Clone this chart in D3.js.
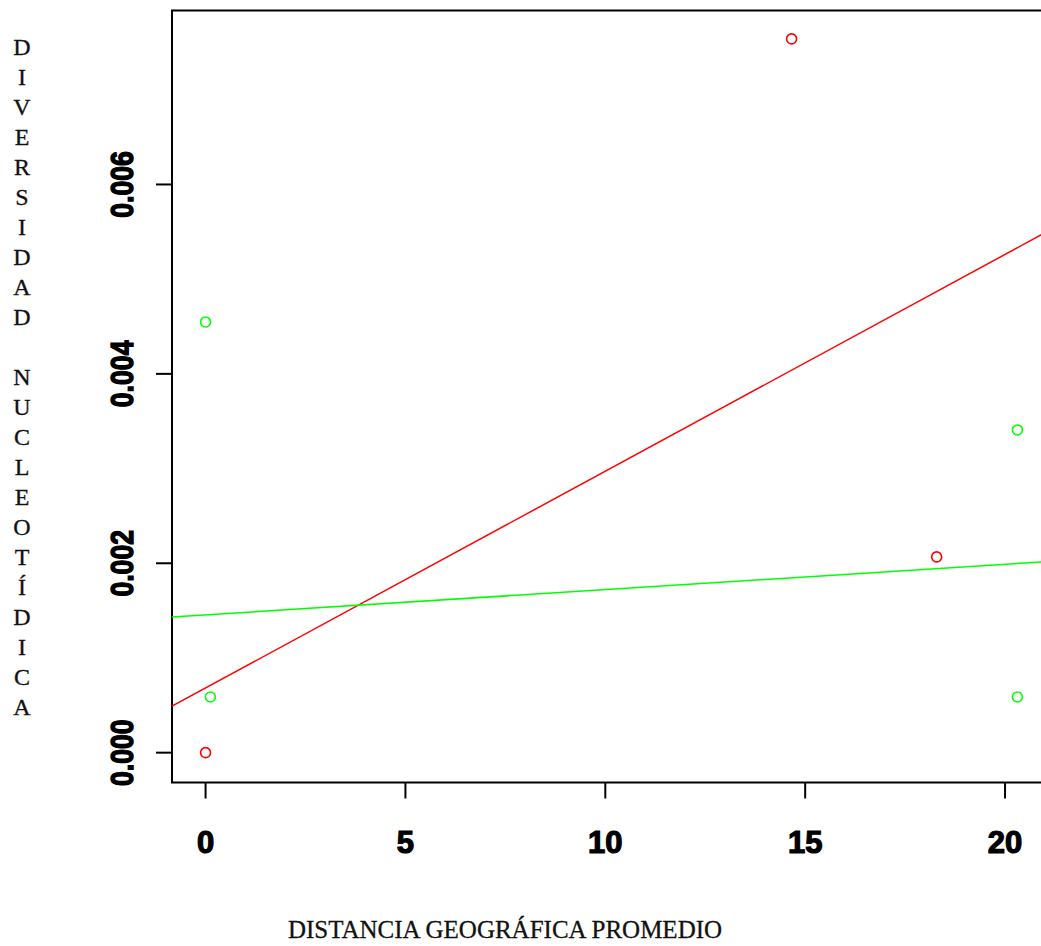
<!DOCTYPE html>
<html>
<head>
<meta charset="utf-8">
<script src="https://cdn.jsdelivr.net/npm/d3@7"></script>
<style>
  body { margin: 0; background: #fff; overflow: hidden; }
  svg { display: block; }
</style>
</head>
<body>
<script>
// data
var redX = [0, 14.66, 18.29];
var redY = [0, 0.007537, 0.002067];
var greenX = [0, 0.12, 20.31, 20.31];
var greenY = [0.004548, 0.000588, 0.003408, 0.000588];
// fitted lines: [intercept, slope]
var redFit = [0.000683, 0.0002289];
var greenFit = [0.001455, 0.0000267];

var xTicks = [0, 5, 10, 15, 20];
var yTicks = [0, 0.002, 0.004, 0.006];
var yTickLabels = ["0.000", "0.002", "0.004", "0.006"];
var xTitle = "DISTANCIA GEOGRÁFICA PROMEDIO";
var yTitle = "DIVERSIDAD NUCLEOTÍDICA";

var width = 1041, height = 946;
var plot = {left: 172, top: 10.5, right: 1063, bottom: 782.5};

var x = d3.scaleLinear().domain([-0.84, 21.45]).range([plot.left, plot.right]);
var y = d3.scaleLinear().domain([-0.000315, 0.007837]).range([plot.bottom, plot.top]);

var svg = d3.select("body").append("svg")
    .attr("width", width)
    .attr("height", height);

svg.append("defs").append("clipPath").attr("id", "clip")
  .append("rect")
    .attr("x", plot.left).attr("y", plot.top)
    .attr("width", plot.right - plot.left)
    .attr("height", plot.bottom - plot.top);

// box
svg.append("rect")
    .attr("x", plot.left).attr("y", plot.top)
    .attr("width", plot.right - plot.left)
    .attr("height", plot.bottom - plot.top)
    .style("fill", "none")
    .style("stroke", "#000")
    .style("stroke-width", 2);

// x axis ticks
svg.selectAll(".xtick")
    .data(xTicks)
  .enter().append("line")
    .attr("x1", function(d) { return x(d); })
    .attr("x2", function(d) { return x(d); })
    .attr("y1", plot.bottom)
    .attr("y2", plot.bottom + 16)
    .style("stroke", "#000")
    .style("stroke-width", 2);

svg.selectAll(".xlab")
    .data(xTicks)
  .enter().append("text")
    .attr("x", function(d) { return x(d); })
    .attr("y", 853)
    .attr("text-anchor", "middle")
    .style("font-family", "'Liberation Sans', Arial, sans-serif")
    .style("font-weight", "bold")
    .style("font-size", "31px")
    .style("stroke", "#000")
    .style("stroke-width", 1.2)
    .text(function(d) { return d; });

// y axis ticks
svg.selectAll(".ytick")
    .data(yTicks)
  .enter().append("line")
    .attr("x1", plot.left - 16)
    .attr("x2", plot.left)
    .attr("y1", function(d) { return y(d); })
    .attr("y2", function(d) { return y(d); })
    .style("stroke", "#000")
    .style("stroke-width", 2);

svg.selectAll(".ylab")
    .data(yTicks)
  .enter().append("text")
    .attr("transform", function(d) { return "translate(133," + y(d) + ") rotate(-90) scale(0.86,1)"; })
    .attr("text-anchor", "middle")
    .style("font-family", "'Liberation Sans', Arial, sans-serif")
    .style("font-weight", "bold")
    .style("font-size", "31px")
    .style("stroke", "#000")
    .style("stroke-width", 1.4)
    .text(function(d, i) { return yTickLabels[i]; });

// regression lines
var xd = x.domain();
function fitLine(fit) {
  return xd.map(function(v) { return [x(v), y(fit[0] + fit[1] * v)]; });
}
var g = svg.append("g").attr("clip-path", "url(#clip)");

g.append("path")
    .attr("d", d3.line()(fitLine(redFit)))
    .style("fill", "none")
    .style("stroke", "#ff0000")
    .style("stroke-width", 1.5);

g.append("path")
    .attr("d", d3.line()(fitLine(greenFit)))
    .style("fill", "none")
    .style("stroke", "#00ff00")
    .style("stroke-width", 1.5);

// points
g.selectAll(".red")
    .data(redX)
  .enter().append("circle")
    .attr("cx", function(d) { return x(d); })
    .attr("cy", function(d, i) { return y(redY[i]); })
    .attr("r", 5)
    .style("fill", "none")
    .style("stroke", "#ff0000")
    .style("stroke-width", 1.6);

g.selectAll(".green")
    .data(greenX)
  .enter().append("circle")
    .attr("cx", function(d) { return x(d); })
    .attr("cy", function(d, i) { return y(greenY[i]); })
    .attr("r", 5)
    .style("fill", "none")
    .style("stroke", "#00ff00")
    .style("stroke-width", 1.6);

// titles
svg.append("text")
    .attr("x", 505)
    .attr("y", 938)
    .attr("text-anchor", "middle")
    .style("font-family", "'Liberation Serif', 'Times New Roman', serif")
    .style("font-size", "25px")
    .style("fill", "#111")
    .style("stroke", "#111")
    .style("stroke-width", 0.3)
    .text(xTitle);

svg.selectAll(".ytitle")
    .data(yTitle.split(""))
  .enter().append("text")
    .attr("x", 22)
    .attr("y", function(d, i) { return 47 + 30 * i + 8; })
    .attr("text-anchor", "middle")
    .style("font-family", "'Liberation Serif', 'Times New Roman', serif")
    .style("font-size", "24px")
    .style("fill", "#111")
    .style("stroke", "#111")
    .style("stroke-width", 0.3)
    .text(function(d) { return d; });
</script>
</body>
</html>
